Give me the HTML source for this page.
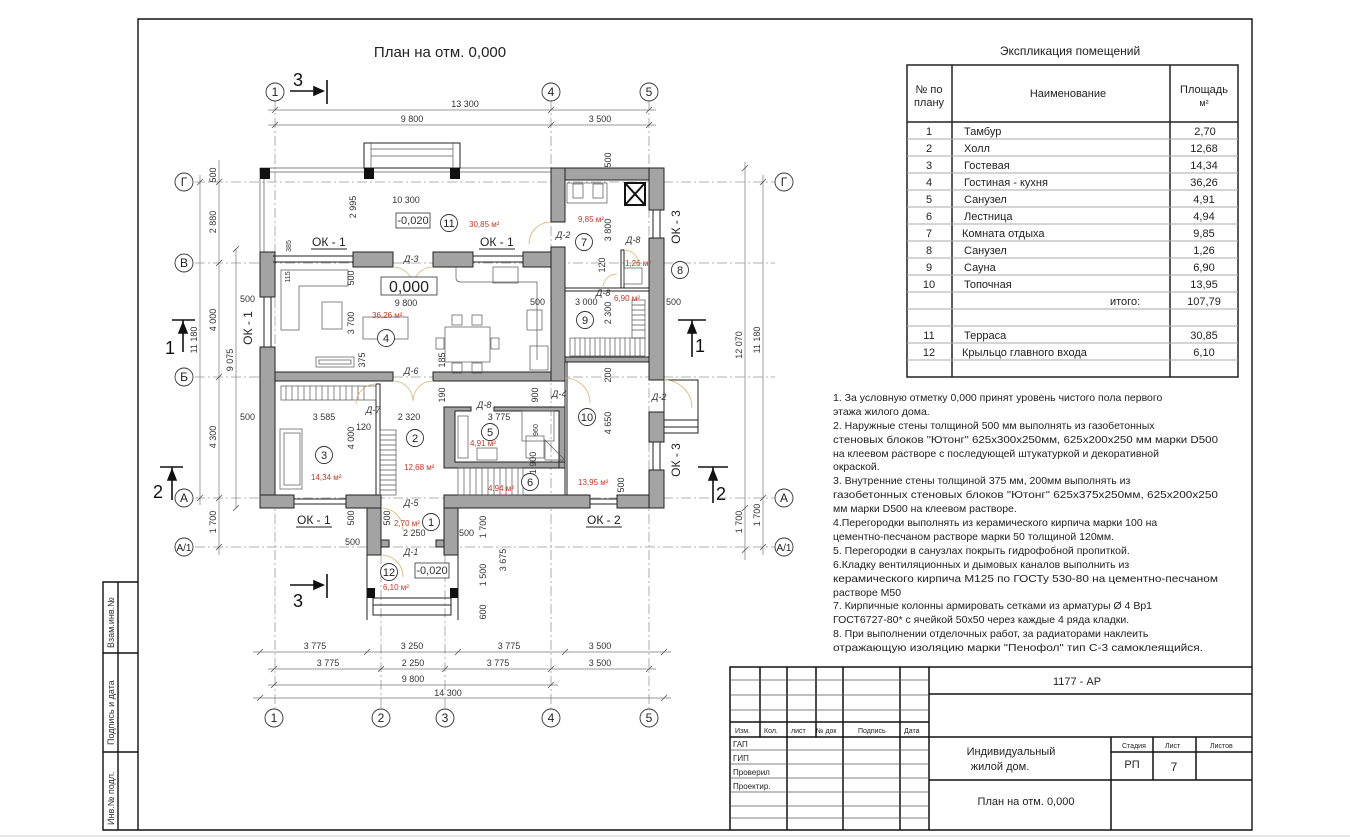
<!DOCTYPE html>
<html><head><meta charset="utf-8"><style>
html,body{margin:0;padding:0;background:#fff;}
svg{display:block;font-family:"Liberation Sans",sans-serif;}
.t{font-size:9px;fill:#333;}
.r{font-size:8px;fill:#c0392b;}
.ax{stroke:#999;stroke-width:0.8;stroke-dasharray:10 3 2 3;fill:none;}
.d{stroke:#777;stroke-width:0.7;fill:none;}
.w{fill:#a3a3a3;stroke:#222;stroke-width:1;}
.l{stroke:#222;stroke-width:1;fill:none;}
.th{stroke:#555;stroke-width:0.7;fill:none;}
.dr{stroke:#d8b56e;stroke-width:0.8;fill:none;}
.c{fill:#fff;stroke:#333;stroke-width:0.9;}
.g{stroke:#111;stroke-width:1.4;fill:none;}
</style></head><body>
<svg width="1350" height="840" viewBox="0 0 1350 840" xmlns="http://www.w3.org/2000/svg">
<rect x="0" y="0" width="1350" height="840" fill="#fff"/>
<line x1="0" y1="836" x2="1350" y2="836" stroke="#ccc" stroke-width="1"/>
<!-- frame -->
<polyline class="g" points="138,830 138,19 1252,19 1252,830 103,830 103,582 138,582"/>
<line class="g" x1="118" y1="582" x2="118" y2="830"/>
<line class="g" x1="103" y1="653" x2="138" y2="653"/>
<line class="g" x1="103" y1="752" x2="138" y2="752"/>
<text class="t" font-size="8" transform="translate(114,648) rotate(-90)">Взам.инв.№</text>
<text class="t" font-size="8" transform="translate(114,745) rotate(-90)">Подпись и дата</text>
<text class="t" font-size="8" transform="translate(114,825) rotate(-90)">Инв.№ подл.</text>

<text x="440" y="57" font-size="15" text-anchor="middle" fill="#222">План на отм. 0,000</text>

<!-- axes -->
<g class="ax">
<line x1="275" y1="100" x2="275" y2="708"/><line x1="381" y1="500" x2="381" y2="708"/><line x1="445" y1="500" x2="445" y2="708"/>
<line x1="551" y1="100" x2="551" y2="708"/><line x1="649" y1="100" x2="649" y2="708"/>
<line x1="195" y1="182" x2="775" y2="182"/><line x1="195" y1="263" x2="775" y2="263"/>
<line x1="195" y1="377" x2="775" y2="377"/><line x1="195" y1="498" x2="775" y2="498"/><line x1="195" y1="547" x2="775" y2="547"/>
</g>
<g font-size="12" text-anchor="middle" fill="#222">
<g class="c"><circle cx="275" cy="92" r="9"/><circle cx="551" cy="92" r="9"/><circle cx="649" cy="92" r="9"/>
<circle cx="274" cy="718" r="9"/><circle cx="381" cy="718" r="9"/><circle cx="445" cy="718" r="9"/><circle cx="551" cy="718" r="9"/><circle cx="649" cy="718" r="9"/>
<circle cx="184" cy="182" r="9"/><circle cx="184" cy="263" r="9"/><circle cx="184" cy="377" r="9"/><circle cx="184" cy="498" r="9"/><circle cx="184" cy="547" r="9"/>
<circle cx="784" cy="182" r="9"/><circle cx="784" cy="498" r="9"/><circle cx="784" cy="547" r="9"/></g>
<text x="275" y="96">1</text><text x="551" y="96">4</text><text x="649" y="96">5</text>
<text x="274" y="722">1</text><text x="381" y="722">2</text><text x="445" y="722">3</text><text x="551" y="722">4</text><text x="649" y="722">5</text>
<text x="184" y="186">Г</text><text x="184" y="267">В</text><text x="184" y="381">Б</text><text x="184" y="502">А</text><text x="184" y="551" font-size="10">А/1</text>
<text x="784" y="186">Г</text><text x="784" y="502">А</text><text x="784" y="551" font-size="10">А/1</text>
</g>

<!-- dimension lines -->
<g class="d">
<line x1="268" y1="110" x2="656" y2="110"/><line x1="268" y1="125" x2="656" y2="125"/>
<line x1="253" y1="652" x2="671" y2="652"/><line x1="268" y1="669" x2="656" y2="669"/>
<line x1="268" y1="685" x2="558" y2="685"/><line x1="253" y1="698" x2="671" y2="698"/>
<line x1="200" y1="175" x2="200" y2="505"/><line x1="219" y1="160" x2="219" y2="555"/><line x1="236" y1="249" x2="236" y2="508"/>
<line x1="745" y1="162" x2="745" y2="560"/><line x1="763" y1="175" x2="763" y2="555"/>
</g>
<g stroke="#555" stroke-width="0.8">
<path d="M272 113 l6 -6 M548 113 l6 -6 M646 113 l6 -6 M272 128 l6 -6 M548 128 l6 -6 M646 128 l6 -6"/>
<path d="M257 655 l6 -6 M364 655 l6 -6 M455 655 l6 -6 M562 655 l6 -6 M661 655 l6 -6 M271 672 l6 -6 M378 672 l6 -6 M442 672 l6 -6 M548 672 l6 -6 M646 672 l6 -6 M271 688 l6 -6 M548 688 l6 -6 M257 701 l6 -6 M661 701 l6 -6"/>
<path d="M216 185 l6 -6 M216 266 l6 -6 M216 380 l6 -6 M216 501 l6 -6 M216 550 l6 -6 M197 185 l6 -6 M197 501 l6 -6 M233 252 l6 -6 M233 511 l6 -6 M742 171 l6 -6 M742 553 l6 -6 M760 185 l6 -6 M760 501 l6 -6 M760 550 l6 -6 M742 511 l6 -6"/>
</g>
<g class="t" text-anchor="middle">
<text x="465" y="107">13 300</text><text x="412" y="122">9 800</text><text x="600" y="122">3 500</text>
<text x="315" y="649">3 775</text><text x="412" y="649">3 250</text><text x="509" y="649">3 775</text><text x="600" y="649">3 500</text>
<text x="328" y="666">3 775</text><text x="413" y="666">2 250</text><text x="498" y="666">3 775</text><text x="600" y="666">3 500</text>
<text x="413" y="682">9 800</text><text x="448" y="696">14 300</text>
<text transform="translate(216,175) rotate(-90)">500</text><text transform="translate(216,222) rotate(-90)">2 880</text>
<text transform="translate(216,320) rotate(-90)">4 000</text><text transform="translate(216,437) rotate(-90)">4 300</text>
<text transform="translate(216,522) rotate(-90)">1 700</text><text transform="translate(197,340) rotate(-90)">11 180</text>
<text transform="translate(233,360) rotate(-90)">9 075</text>
<text transform="translate(742,345) rotate(-90)">12 070</text><text transform="translate(760,340) rotate(-90)">11 180</text>
<text transform="translate(742,522) rotate(-90)">1 700</text><text transform="translate(760,515) rotate(-90)">1 700</text>
<text transform="translate(611,160) rotate(-90)">500</text>
</g>

<!-- terrace -->
<g class="th">
<rect x="260" y="168" width="291" height="4"/><line x1="264" y1="172" x2="264" y2="252"/><line x1="260" y1="168" x2="260" y2="252"/>
<rect x="364" y="143" width="96" height="25" class="l"/><line x1="371" y1="143" x2="371" y2="168"/><line x1="453" y1="143" x2="453" y2="168"/>
<line x1="371" y1="149" x2="453" y2="149"/><line x1="371" y1="156" x2="453" y2="156"/>
</g>
<rect x="260" y="168" width="10" height="11" fill="#111"/><rect x="364" y="168" width="10" height="11" fill="#111"/><rect x="450" y="168" width="10" height="11" fill="#111"/>

<!-- walls -->
<g class="w">
<rect x="260" y="252" width="13" height="15"/><rect x="353" y="252" width="40" height="15"/><rect x="433" y="252" width="40" height="15"/><rect x="523" y="252" width="28" height="15"/>
<rect x="260" y="252" width="15" height="45"/><rect x="260" y="347" width="15" height="161"/>
<rect x="275" y="372" width="118" height="9"/><rect x="433" y="372" width="132" height="9"/>
<rect x="260" y="495" width="34" height="13"/><rect x="346" y="495" width="35" height="13"/><rect x="444" y="495" width="146" height="13"/><rect x="617" y="495" width="47" height="13"/>
<rect x="551" y="168" width="113" height="12"/><rect x="551" y="168" width="14" height="54"/><rect x="551" y="247" width="14" height="134"/>
<rect x="649" y="168" width="15" height="42"/><rect x="649" y="238" width="15" height="142"/><rect x="649" y="412" width="15" height="30"/><rect x="649" y="470" width="15" height="38"/>
<rect x="565" y="357" width="84" height="5"/>
<rect x="367" y="508" width="14" height="47"/><rect x="444" y="508" width="14" height="47"/>
<rect x="381" y="540" width="8" height="7"/><rect x="436" y="540" width="8" height="7"/>
</g>
<g class="l">
<line x1="273" y1="256" x2="353" y2="256"/><line x1="273" y1="262" x2="353" y2="262"/>
<line x1="473" y1="256" x2="523" y2="256"/><line x1="473" y1="262" x2="523" y2="262"/>
<line x1="264" y1="297" x2="264" y2="347"/><line x1="271" y1="297" x2="271" y2="347"/>
<line x1="294" y1="499" x2="346" y2="499"/><line x1="294" y1="504" x2="346" y2="504"/>
<line x1="590" y1="499" x2="617" y2="499"/><line x1="590" y1="504" x2="617" y2="504"/>
<line x1="653" y1="210" x2="653" y2="238"/><line x1="660" y1="210" x2="660" y2="238"/>
<line x1="653" y1="442" x2="653" y2="470"/><line x1="660" y1="442" x2="660" y2="470"/>
<rect x="376" y="384" width="4" height="111"/>
<line x1="565" y1="362" x2="565" y2="495"/><line x1="567" y1="362" x2="567" y2="495"/>
<rect x="621" y="250" width="3" height="38"/><line x1="565" y1="288" x2="649" y2="288"/><line x1="565" y1="291" x2="649" y2="291"/>
<rect x="664" y="380" width="34" height="53"/><line x1="664" y1="420" x2="698" y2="420"/><line x1="664" y1="427" x2="698" y2="427"/>
<line x1="367" y1="555" x2="367" y2="620"/><line x1="458" y1="555" x2="458" y2="620"/>
<rect x="373" y="598" width="78" height="17"/><line x1="373" y1="605" x2="451" y2="605"/>
</g>
<rect x="367" y="588" width="8" height="10" fill="#111"/><rect x="450" y="588" width="8" height="10" fill="#111"/>
<!-- bathroom 5 -->
<path class="w" d="M444 407 H471 V411 H455 V462 H565 V468 H444 Z M494 407 H565 V468 H559 V411 H494 Z"/>
<!-- stairs -->
<g class="th">
<rect x="380" y="430" width="16" height="65"/>
<path d="M380 435 h16 M380 440 h16 M380 445 h16 M380 450 h16 M380 455 h16 M380 460 h16 M380 465 h16 M380 470 h16 M380 475 h16 M380 480 h16 M380 485 h16 M380 490 h16"/>
<rect x="458" y="468" width="65" height="27"/>
<path d="M464 468 v27 M470 468 v27 M476 468 v27 M482 468 v27 M488 468 v27 M494 468 v27 M500 468 v27 M506 468 v27 M512 468 v27 M518 468 v27"/>
<rect x="570" y="338" width="75" height="18"/>
<path d="M575 338 v18 M580 338 v18 M585 338 v18 M590 338 v18 M595 338 v18 M600 338 v18 M605 338 v18 M610 338 v18 M615 338 v18 M620 338 v18 M625 338 v18 M630 338 v18 M635 338 v18 M640 338 v18"/>
<rect x="632" y="300" width="13" height="38"/>
<path d="M632 305 h13 M632 310 h13 M632 315 h13 M632 320 h13 M632 325 h13 M632 330 h13"/>
<rect x="281" y="386" width="95" height="14"/>
<path d="M286 386 v14 M292 386 v14 M298 386 v14 M304 386 v14 M310 386 v14 M316 386 v14 M322 386 v14 M328 386 v14 M334 386 v14 M340 386 v14 M346 386 v14 M352 386 v14 M358 386 v14 M364 386 v14"/>
<!-- furniture -->
<path d="M281 270 H348 V286 H299 V330 H281 Z"/><rect x="322" y="302" width="20" height="27"/>
<rect x="316" y="357" width="38" height="10"/><rect x="319" y="360" width="32" height="4"/>
<rect x="363" y="317" width="45" height="22"/>
<rect x="445" y="327" width="45" height="35"/>
<rect x="452" y="315" width="10" height="10"/><rect x="472" y="315" width="10" height="10"/><rect x="452" y="363" width="10" height="10"/><rect x="472" y="363" width="10" height="10"/>
<rect x="436" y="338" width="8" height="11"/><rect x="491" y="338" width="8" height="11"/>
<path d="M456 267 V278 Q456 282 461 282 H537 V360"/><rect x="493" y="267" width="25" height="16"/>
<rect x="527" y="310" width="15" height="20"/><rect x="530" y="346" width="18" height="24"/>
<rect x="280" y="429" width="22" height="60"/><rect x="284" y="433" width="16" height="52"/>
<rect x="458" y="416" width="10" height="42"/><rect x="522" y="411" width="32" height="30"/><rect x="477" y="448" width="20" height="12"/>
<rect x="526" y="436" width="18" height="22"/><path d="M545 440 l20 20 h-20 z"/>
<rect x="567" y="183" width="40" height="20"/><rect x="573" y="184" width="10" height="14"/><rect x="593" y="184" width="10" height="14"/>
<rect x="624" y="268" width="18" height="16"/>
</g>
<path d="M625 183 h20 v22 h-20z M625 183 l20 22 M645 183 l-20 22" stroke="#111" stroke-width="2" fill="none"/>
<!-- doors -->
<g class="dr">
<path d="M393 267 A20 20 0 0 1 413 287 M433 267 A20 20 0 0 0 413 287"/>
<path d="M393 381 A20 20 0 0 1 413 401 M433 381 A20 20 0 0 0 413 401"/>
<path d="M551 222 A22 22 0 0 0 529 244"/><path d="M565 378 A25 25 0 0 1 590 403"/>
<path d="M664 380 A28 28 0 0 1 692 408"/><path d="M624 250 A15 15 0 0 1 639 265"/>
<path d="M603 288 A14 14 0 0 1 617 274"/><path d="M381 508 A22 22 0 0 1 403 530"/>
<path d="M381 555 A22 22 0 0 1 403 577"/><path d="M376 384 A20 20 0 0 0 356 404"/>
</g>

<!-- labels -->
<g class="t">
<rect x="396" y="213" width="34" height="15" fill="#fff" stroke="#333" stroke-width="0.8"/>
<text x="413" y="224" font-size="11" text-anchor="middle">-0,020</text>
<text x="406" y="203" text-anchor="middle">10 300</text>
<text transform="translate(356,207) rotate(-90)" text-anchor="middle">2 995</text>
<text x="312" y="246" font-size="12" fill="#222">ОК - 1</text><line x1="311" y1="249" x2="347" y2="249" stroke="#222"/>
<text x="480" y="246" font-size="12" fill="#222">ОК - 1</text><line x1="479" y1="249" x2="515" y2="249" stroke="#222"/>
<text x="404" y="262" font-style="italic">Д-3</text><text x="556" y="238" font-style="italic">Д-2</text>
<text transform="translate(611,230) rotate(-90)" text-anchor="middle">3 800</text>
<text x="626" y="243" font-style="italic">Д-8</text>
<text transform="translate(605,265) rotate(-90)" text-anchor="middle">120</text>
<text x="596" y="296" font-style="italic">Д-8</text>
<text x="666" y="305">500</text><text x="575" y="305">3 000</text>
<text transform="translate(611,313) rotate(-90)" text-anchor="middle">2 300</text>
<rect x="381" y="277" width="56" height="18" fill="#fff" stroke="#333" stroke-width="0.8"/>
<text x="409" y="292" font-size="16" text-anchor="middle" fill="#222">0,000</text>
<text x="406" y="306" text-anchor="middle">9 800</text><text x="530" y="305">500</text>
<text transform="translate(354,323) rotate(-90)" text-anchor="middle">3 700</text>
<text transform="translate(354,278) rotate(-90)" text-anchor="middle">500</text>
<text transform="translate(290,277) rotate(-90)" text-anchor="middle" font-size="7">115</text>
<text transform="translate(291,246) rotate(-90)" text-anchor="middle" font-size="7">385</text>
<text transform="translate(365,360) rotate(-90)" text-anchor="middle">375</text>
<text transform="translate(445,360) rotate(-90)" text-anchor="middle">185</text>
<text x="404" y="374" font-style="italic">Д-6</text>
<text transform="translate(445,395) rotate(-90)" text-anchor="middle">190</text>
<text transform="translate(538,395) rotate(-90)" text-anchor="middle">900</text>
<text x="552" y="397" font-style="italic">Д-4</text><text x="652" y="400" font-style="italic">Д-2</text>
<text transform="translate(611,375) rotate(-90)" text-anchor="middle">200</text>
<text x="366" y="413" font-style="italic">Д-7</text><text x="477" y="408" font-style="italic">Д-8</text>
<text x="324" y="420" text-anchor="middle">3 585</text><text x="409" y="420" text-anchor="middle">2 320</text><text x="499" y="420" text-anchor="middle">3 775</text>
<text x="240" y="420">500</text><text x="356" y="430">120</text>
<text transform="translate(354,438) rotate(-90)" text-anchor="middle">4 000</text>
<text transform="translate(538,430) rotate(-90)" text-anchor="middle" font-size="7">960</text>
<text transform="translate(611,423) rotate(-90)" text-anchor="middle">4 650</text>
<text transform="translate(536,463) rotate(-90)" text-anchor="middle">1 900</text>
<text transform="translate(624,485) rotate(-90)" text-anchor="middle">500</text>
<text x="404" y="506" font-style="italic">Д-5</text>
<text x="297" y="524" font-size="12" fill="#222">ОК - 1</text><line x1="296" y1="527" x2="332" y2="527" stroke="#222"/>
<text x="587" y="524" font-size="12" fill="#222">ОК - 2</text><line x1="586" y1="527" x2="622" y2="527" stroke="#222"/>
<text transform="translate(354,518) rotate(-90)" text-anchor="middle">500</text>
<text transform="translate(390,518) rotate(-90)" text-anchor="middle">500</text>
<text x="403" y="536">2 250</text><text x="459" y="536">500</text><text x="345" y="545">500</text>
<text transform="translate(486,527) rotate(-90)" text-anchor="middle">1 700</text>
<text x="404" y="555" font-style="italic">Д-1</text>
<rect x="415" y="563" width="34" height="15" fill="#fff" stroke="#333" stroke-width="0.8"/>
<text x="432" y="574" font-size="11" text-anchor="middle">-0,020</text>
<text transform="translate(486,575) rotate(-90)" text-anchor="middle">1 500</text>
<text transform="translate(506,560) rotate(-90)" text-anchor="middle">3 675</text>
<text transform="translate(486,612) rotate(-90)" text-anchor="middle">600</text>
<text transform="translate(252,328) rotate(-90)" text-anchor="middle" font-size="12" fill="#222">ОК - 1</text>
<text x="240" y="302">500</text>
<text transform="translate(680,227) rotate(-90)" text-anchor="middle" font-size="12" fill="#222">ОК - 3</text>
<text transform="translate(680,460) rotate(-90)" text-anchor="middle" font-size="12" fill="#222">ОК - 3</text>
</g>
<g class="r">
<text x="469" y="227">30,85 м²</text><text x="578" y="222">9,85 м²</text><text x="625" y="266">1,26 м²</text>
<text x="614" y="301">6,90 м²</text><text x="372" y="318">36,26 м²</text><text x="470" y="446">4,91 м²</text>
<text x="311" y="480">14,34 м²</text><text x="404" y="470">12,68 м²</text><text x="488" y="491">4,94 м²</text>
<text x="578" y="485">13,95 м²</text><text x="394" y="526">2,70 м²</text><text x="383" y="590">6,10 м²</text>
</g>
<g font-size="11" text-anchor="middle" fill="#222">
<g class="c" stroke-width="0.7">
<circle cx="449" cy="223" r="8.5"/><circle cx="584" cy="242" r="8.5"/><circle cx="680" cy="270" r="8.5"/><circle cx="585" cy="320" r="8.5"/>
<circle cx="386" cy="338" r="8.5"/><circle cx="587" cy="417" r="8.5"/><circle cx="415" cy="438" r="8.5"/><circle cx="490" cy="432" r="8.5"/>
<circle cx="324" cy="455" r="8.5"/><circle cx="530" cy="482" r="8.5"/><circle cx="431" cy="522" r="8.5"/><circle cx="389" cy="572" r="8.5"/></g>
<text x="449" y="227">11</text><text x="584" y="246">7</text><text x="680" y="274">8</text><text x="585" y="324">9</text>
<text x="386" y="342">4</text><text x="587" y="421">10</text><text x="415" y="442">2</text><text x="490" y="436">5</text>
<text x="324" y="459">3</text><text x="530" y="486">6</text><text x="431" y="526">1</text><text x="389" y="576">12</text>
</g>

<!-- section markers -->
<g stroke="#111" stroke-width="1.6" fill="#111">
<line x1="290" y1="91" x2="322" y2="91"/><line x1="327" y1="80" x2="327" y2="104"/><path d="M314 87 l9 4 l-9 4z"/>
<line x1="290" y1="585" x2="322" y2="585"/><line x1="327" y1="574" x2="327" y2="598"/><path d="M314 581 l9 4 l-9 4z"/>
<line x1="172" y1="320" x2="195" y2="320"/><line x1="183" y1="320" x2="183" y2="352"/><path d="M179 333 l4 -10 l4 10z"/>
<line x1="160" y1="467" x2="183" y2="467"/><line x1="172" y1="467" x2="172" y2="500"/><path d="M168 480 l4 -10 l4 10z"/>
<line x1="678" y1="320" x2="706" y2="320"/><line x1="692" y1="320" x2="692" y2="357"/><path d="M688 333 l4 -10 l4 10z"/>
<line x1="698" y1="467" x2="728" y2="467"/><line x1="713" y1="467" x2="713" y2="503"/><path d="M709 480 l4 -10 l4 10z"/>
</g>
<g font-size="18" fill="#111">
<text x="293" y="86">3</text><text x="293" y="607">3</text><text x="165" y="354">1</text><text x="153" y="498">2</text>
<text x="695" y="352">1</text><text x="716" y="500">2</text>
</g>

<!-- explication table -->
<text x="1070" y="55" font-size="12" text-anchor="middle" fill="#222">Экспликация помещений</text>
<g stroke="#222" fill="none">
<rect x="907" y="65" width="331" height="312" stroke-width="1.5"/>
<line x1="952" y1="65" x2="952" y2="377" stroke-width="1.5"/><line x1="1170" y1="65" x2="1170" y2="377" stroke-width="1.5"/>
<line x1="907" y1="122" x2="1238" y2="122" stroke-width="1.5"/>
</g>
<g stroke="#aaa" stroke-width="1">
<line x1="907" y1="139" x2="1238" y2="139"/><line x1="907" y1="156" x2="1238" y2="156"/><line x1="907" y1="173" x2="1238" y2="173"/>
<line x1="907" y1="190" x2="1238" y2="190"/><line x1="907" y1="207" x2="1238" y2="207"/><line x1="907" y1="224" x2="1238" y2="224"/>
<line x1="907" y1="241" x2="1238" y2="241"/><line x1="907" y1="258" x2="1238" y2="258"/><line x1="907" y1="275" x2="1238" y2="275"/>
<line x1="907" y1="292" x2="1238" y2="292"/><line x1="907" y1="309" x2="1238" y2="309"/><line x1="907" y1="326" x2="1238" y2="326"/>
<line x1="907" y1="343" x2="1238" y2="343"/><line x1="907" y1="360" x2="1238" y2="360"/>
</g>
<g font-size="11" fill="#222">
<text x="929" y="93" text-anchor="middle">№ по</text><text x="929" y="106" text-anchor="middle">плану</text>
<text x="1068" y="97" text-anchor="middle">Наименование</text>
<text x="1204" y="93" text-anchor="middle">Площадь</text><text x="1204" y="106" text-anchor="middle" font-size="9">м²</text>
<g text-anchor="middle">
<text x="929" y="135">1</text><text x="929" y="152">2</text><text x="929" y="169">3</text><text x="929" y="186">4</text><text x="929" y="203">5</text>
<text x="929" y="220">6</text><text x="929" y="237">7</text><text x="929" y="254">8</text><text x="929" y="271">9</text><text x="929" y="288">10</text>
<text x="929" y="339">11</text><text x="929" y="356">12</text>
<text x="1205" y="135">2,70</text><text x="1204" y="152">12,68</text><text x="1204" y="169">14,34</text><text x="1204" y="186">36,26</text><text x="1204" y="203">4,91</text>
<text x="1204" y="220">4,94</text><text x="1204" y="237">9,85</text><text x="1204" y="254">1,26</text><text x="1204" y="271">6,90</text><text x="1204" y="288">13,95</text>
<text x="1204" y="305">107,79</text><text x="1204" y="339">30,85</text><text x="1204" y="356">6,10</text>
</g>
<text x="964" y="135">Тамбур</text><text x="964" y="152">Холл</text><text x="964" y="169">Гостевая</text><text x="964" y="186">Гостиная - кухня</text>
<text x="964" y="203">Санузел</text><text x="964" y="220">Лестница</text><text x="962" y="237">Комната отдыха</text><text x="964" y="254">Санузел</text>
<text x="964" y="271">Сауна</text><text x="964" y="288">Топочная</text><text x="1110" y="305">итого:</text>
<text x="964" y="339">Терраса</text><text x="962" y="356">Крыльцо главного входа</text>
</g>

<!-- notes -->
<g font-size="10.5" fill="#222">
<text x="833" y="401">1.  За условную отметку 0,000 принят уровень чистого пола первого</text>
<text x="833" y="415">этажа жилого дома.</text>
<text x="833" y="429">2.  Наружные стены толщиной 500 мм выполнять из газобетонных</text>
<text x="833" y="443" textLength="385" lengthAdjust="spacingAndGlyphs">стеновых блоков "Ютонг" 625х300х250мм, 625х200х250 мм марки D500</text>
<text x="833" y="457">на клеевом растворе с последующей штукатуркой и декоративной</text>
<text x="833" y="470">окраской.</text>
<text x="833" y="484">3. Внутренние стены толщиной 375 мм, 200мм  выполнять из</text>
<text x="833" y="498" textLength="385" lengthAdjust="spacingAndGlyphs">газобетонных  стеновых блоков "Ютонг" 625х375х250мм, 625х200х250</text>
<text x="833" y="512">мм марки D500  на клеевом растворе.</text>
<text x="833" y="526">4.Перегородки выполнять из керамического кирпича марки 100  на</text>
<text x="833" y="540">цементно-песчаном растворе марки 50 толщиной  120мм.</text>
<text x="833" y="554">5. Перегородки в санузлах  покрыть гидрофобной пропиткой.</text>
<text x="833" y="568">6.Кладку вентиляционных и дымовых  каналов выполнить из</text>
<text x="833" y="582" textLength="385" lengthAdjust="spacingAndGlyphs">керамического кирпича М125 по ГОСТу 530-80 на цементно-песчаном</text>
<text x="833" y="596">растворе М50</text>
<text x="833" y="609">7. Кирпичные колонны армировать сетками из арматуры Ø 4 Вр1</text>
<text x="833" y="623">ГОСТ6727-80* с ячейкой 50х50  через каждые 4 ряда кладки.</text>
<text x="833" y="637">8. При выполнении отделочных работ, за радиаторами  наклеить</text>
<text x="833" y="651" textLength="370" lengthAdjust="spacingAndGlyphs">отражающую изоляцию марки "Пенофол" тип С-3 самоклеящийся.</text>
</g>

<!-- title block -->
<g stroke="#111" fill="none" stroke-width="1.5">
<polyline points="730,830 730,667 1252,667"/>
<line x1="929" y1="667" x2="929" y2="830"/>
<line x1="929" y1="694" x2="1252" y2="694"/>
<line x1="730" y1="737" x2="1252" y2="737"/>
<line x1="929" y1="780" x2="1252" y2="780"/>
<line x1="1111" y1="737" x2="1111" y2="830"/>
<line x1="1153" y1="737" x2="1153" y2="780"/><line x1="1196" y1="737" x2="1196" y2="780"/>
<line x1="1111" y1="752" x2="1252" y2="752"/>
<line x1="787" y1="667" x2="787" y2="830"/><line x1="843" y1="667" x2="843" y2="830"/><line x1="900" y1="667" x2="900" y2="830"/>
<line x1="760" y1="667" x2="760" y2="737"/><line x1="816" y1="667" x2="816" y2="737"/>
<line x1="730" y1="722" x2="929" y2="722"/>
</g>
<g stroke="#555" stroke-width="0.8">
<line x1="730" y1="680" x2="929" y2="680"/><line x1="730" y1="695" x2="929" y2="695"/><line x1="730" y1="710" x2="929" y2="710"/>
<line x1="730" y1="750" x2="929" y2="750"/><line x1="730" y1="764" x2="929" y2="764"/><line x1="730" y1="778" x2="929" y2="778"/>
<line x1="730" y1="792" x2="929" y2="792"/><line x1="730" y1="806" x2="929" y2="806"/><line x1="730" y1="818" x2="929" y2="818"/>
</g>
<g font-size="7" fill="#222">
<text x="735" y="733">Изм.</text><text x="764" y="733">Кол.</text><text x="791" y="733">лист</text><text x="816" y="733">№ док</text><text x="858" y="733">Подпись</text><text x="904" y="733">Дата</text>
<text x="733" y="747" font-size="8">ГАП</text><text x="733" y="761" font-size="8">ГИП</text><text x="733" y="775" font-size="8">Проверил</text><text x="733" y="789" font-size="8">Проектир.</text>
<text x="1122" y="748">Стадия</text><text x="1165" y="748">Лист</text><text x="1210" y="748">Листов</text>
</g>
<g font-size="11" fill="#222" text-anchor="middle">
<text x="1077" y="685">1177 - АР</text>
<text x="1011" y="755">Индивидуальный</text><text x="1000" y="770">жилой дом.</text>
<text x="1132" y="768">РП</text><text x="1174" y="771" font-size="12">7</text>
<text x="1026" y="805">План на отм. 0,000</text>
</g>
</svg>
</body></html>
